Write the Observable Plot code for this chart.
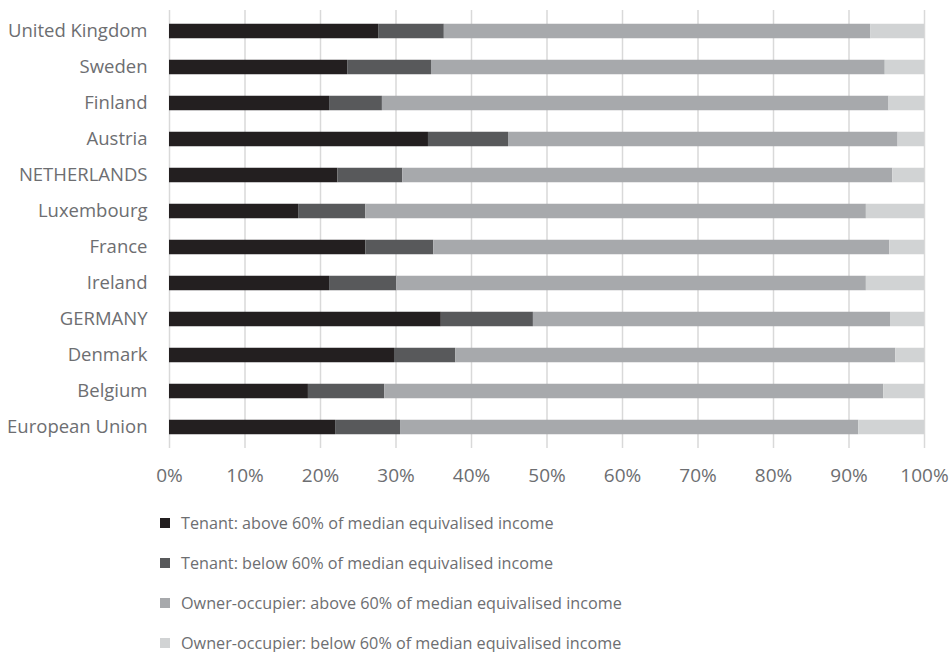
<!DOCTYPE html>
<html>
<head>
<meta charset="utf-8">
<script src="https://cdn.jsdelivr.net/npm/d3@7"></script>
<script src="https://cdn.jsdelivr.net/npm/@observablehq/plot@0.6"></script>
<style>
  html, body { margin: 0; background: #fff; font-family: "Open Sans", sans-serif; overflow: hidden; }
  #chart svg { display: block; }
  #legend { margin-left: 160px; margin-top: 18.5px; }
  .item { display: flex; align-items: center; height: 18px; line-height: 18px; margin-bottom: 22px; font-size: 16.2px; color: #6d6e71; }
  .item:last-child { margin-bottom: 0; }
  .sw { width: 10px; height: 10px; margin-right: 11px; }
  .ylab text { font-size: 18.5px; }
  .xlab text { font-size: 19px; }
</style>
</head>
<body>
<div id="chart"></div>
<div id="legend"></div>
<script>
const countries = ["United Kingdom","Sweden","Finland","Austria","NETHERLANDS","Luxembourg","France","Ireland","GERMANY","Denmark","Belgium","European Union"];
const tenantAbove = [27.7,23.6,21.2,34.3,22.3,17.1,26.0,21.2,36.0,29.8,18.4,22.0];
const tenantBelow = [8.7,11.1,7.0,10.6,8.6,8.9,9.0,8.9,12.2,8.1,10.1,8.6];
const ownerAbove  = [56.5,60.1,67.1,51.6,64.9,66.3,60.4,62.2,47.3,58.3,66.1,60.7];
const ownerBelow  = [7.1,5.2,4.7,3.5,4.2,7.7,4.6,7.7,4.5,3.8,5.4,8.7];
const seriesNames = [
  "Tenant: above 60% of median equivalised income",
  "Tenant: below 60% of median equivalised income",
  "Owner-occupier: above 60% of median equivalised income",
  "Owner-occupier: below 60% of median equivalised income"
];
const colors = ["#231f20","#58595b","#a7a9ac","#d1d3d4"];
const xTicks = [0,10,20,30,40,50,60,70,80,90,100];

const seriesVals = [tenantAbove, tenantBelow, ownerAbove, ownerBelow];
const data = [];
seriesNames.forEach((s, si) => countries.forEach((c, ci) => data.push({country: c, series: s, value: seriesVals[si][ci]})));

const chart = Plot.plot({
  width: 949,
  height: 495,
  marginLeft: 169,
  marginRight: 25,
  marginTop: 10,
  marginBottom: 47,
  style: {fontFamily: "Open Sans, sans-serif", fontSize: "16px", color: "#6d6e71", background: "#fff"},
  x: {domain: [0, 100], label: null},
  y: {domain: countries, padding: 0, label: null},
  color: {domain: seriesNames, range: colors},
  marks: [
    Plot.ruleX(xTicks, {stroke: "#d9d9d9", strokeWidth: 1.5}),
    Plot.barX(data, Plot.stackX({x: "value", y: "country", fill: "series", order: seriesNames, insetTop: 10.75, insetBottom: 10.75})),
    Plot.axisY({tickSize: 0, tickPadding: 22, className: "ylab", fill: "#6d6e71"}),
    Plot.axisX({ticks: xTicks, tickFormat: d => d + "%", tickSize: 0, tickPadding: 20, className: "xlab", fill: "#6d6e71"})
  ]
});
document.getElementById("chart").appendChild(chart);

const legend = document.getElementById("legend");
seriesNames.forEach((s, i) => {
  const d = document.createElement("div");
  d.className = "item";
  d.innerHTML = `<span class="sw" style="background:${colors[i]}"></span><span>${s}</span>`;
  legend.appendChild(d);
});
</script>
</body>
</html>
